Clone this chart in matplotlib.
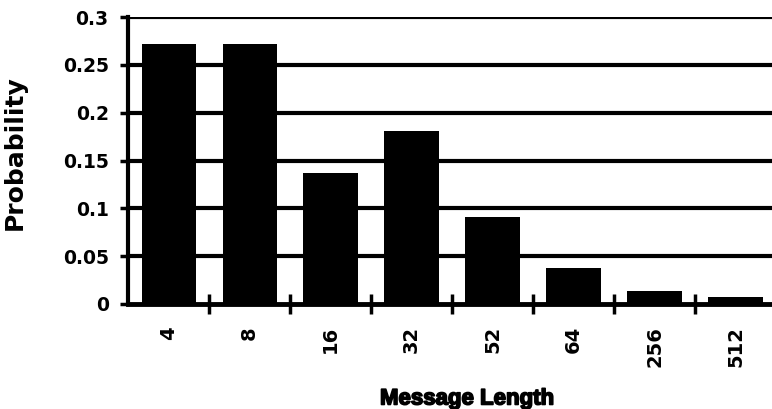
import matplotlib.pyplot as plt
import matplotlib.patheffects as pe

# message length distribution
lengths = ['4', '8', '16', '32', '52', '64', '256', '512']
probs = [0.272, 0.272, 0.137, 0.181, 0.091, 0.038, 0.014, 0.0075]
yticks = [0, 0.05, 0.1, 0.15, 0.2, 0.25, 0.3]
ylabels = ['0', '0.05', '0.1', '0.15', '0.2', '0.25', '0.3']

plt.rcParams['font.family'] = ['DejaVu Sans']
plt.rcParams['font.weight'] = 'bold'

fig = plt.figure(figsize=(7.72, 4.09), dpi=100)
ax = fig.add_axes([0.166, 0.257, 0.834, 0.701])

x = range(len(lengths))
ax.bar(x, probs, width=0.67, color='black', zorder=3)

# grid lines
for yv in yticks[1:]:
    ax.axhline(yv, color='black', lw=3, zorder=1)

ax.set_ylim(0, 0.3)
ax.set_xlim(-0.5, 7.45)

ax.set_yticks(yticks)
ax.set_yticklabels(ylabels, fontsize=13.5, fontweight='bold')
ax.tick_params(axis='y', direction='out', length=6, width=2.5, pad=8)

# category labels at centres, ticks at boundaries
ax.set_xticks(list(x))
ax.set_xticklabels(lengths, rotation=90, fontsize=14, fontweight='bold')
ax.tick_params(axis='x', which='major', length=0, pad=16)
ax.set_xticks([i + 0.5 for i in range(len(lengths) - 1)], minor=True)
ax.tick_params(axis='x', which='minor', direction='inout', length=14, width=2.5)

for s in ['top', 'right']:
    ax.spines[s].set_visible(False)
ax.spines['left'].set_linewidth(3)
ax.spines['bottom'].set_linewidth(3.5)
ax.spines['bottom'].set_zorder(4)

ax.set_ylabel('Probability', fontsize=18, fontweight='bold')
ax.yaxis.set_label_coords(-0.157, 0.526)
xl = ax.set_xlabel('Message Length', fontsize=16, fontweight='heavy',
                   family='Liberation Sans')
xl.set_path_effects([pe.withStroke(linewidth=1.2, foreground='black')])
ax.xaxis.set_label_coords(0.526, -0.295)

fig.savefig('out.png', dpi=100)
